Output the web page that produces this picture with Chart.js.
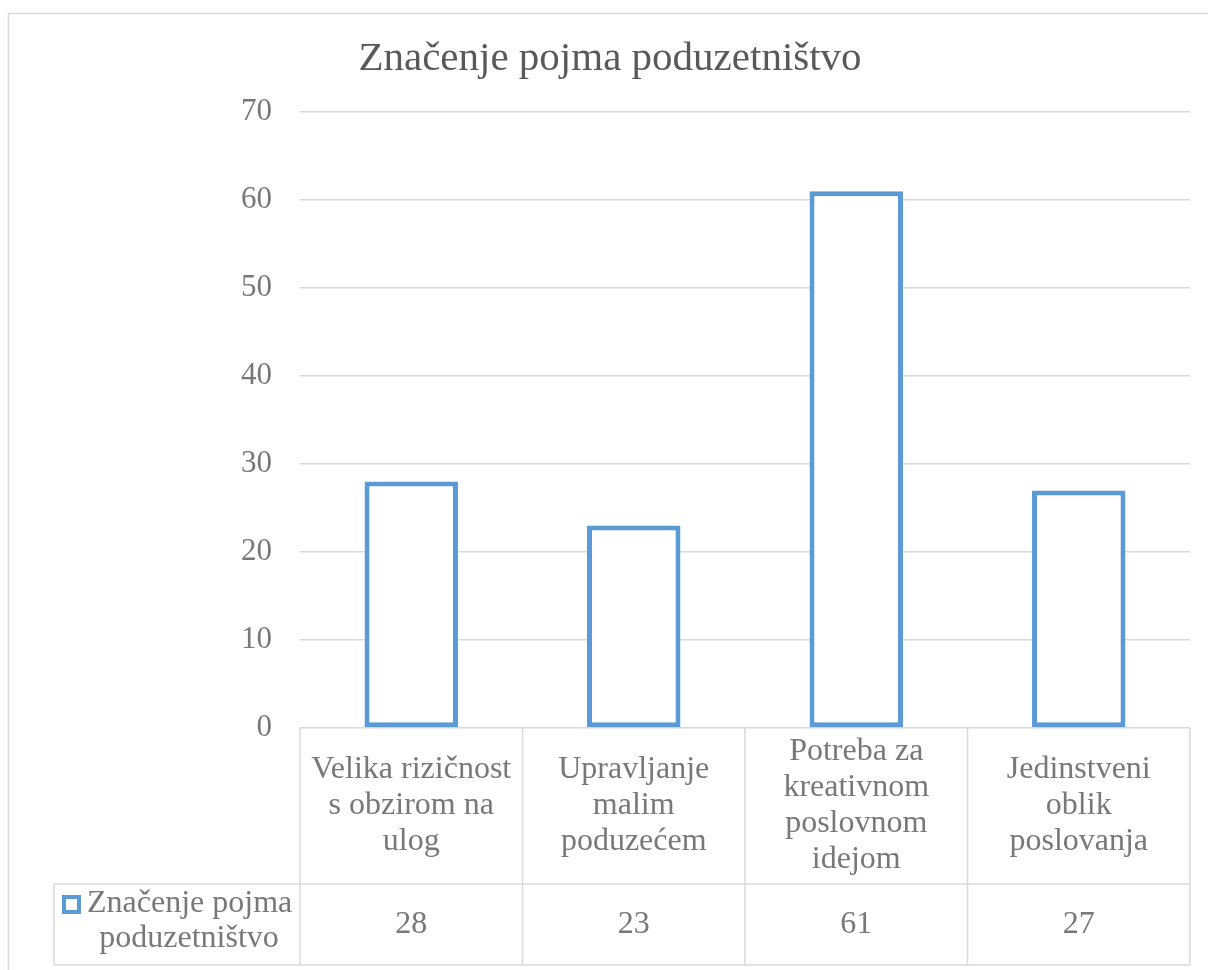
<!DOCTYPE html>
<html>
<head>
<meta charset="utf-8">
<title>Značenje pojma poduzetništvo</title>
<script src="https://cdn.jsdelivr.net/npm/chart.js@4/dist/chart.umd.min.js"></script>
<style>
  html, body { margin: 0; padding: 0; background: #fff; }
  #wrap { position: relative; width: 1208px; height: 970px; }
</style>
</head>
<body>
<div id="wrap"><canvas id="chart"></canvas></div>
<script>
// ─── Data ──────────────────────────────────────────────────────────
const chartTitle = 'Značenje pojma poduzetništvo';
const seriesName = ['Značenje pojma', 'poduzetništvo'];
const categories = [
  ['Velika rizičnost', 's obzirom na', 'ulog'],
  ['Upravljanje', 'malim', 'poduzećem'],
  ['Potreba za', 'kreativnom', 'poslovnom', 'idejom'],
  ['Jedinstveni', 'oblik', 'poslovanja'],
];
const values = [28, 23, 61, 27];
const yTicks = [0, 10, 20, 30, 40, 50, 60, 70];

// ─── Styling ───────────────────────────────────────────────────────
const FONT = '"Liberation Serif", "Times New Roman", serif';
const BLUE = '#5b9bd5';
const GRID = '#d9d9d9';
const TEXT = '#787878';
const TITLE = '#595959';

// draws title, outer frame and the data table under the plot
const tablePlugin = {
  id: 'dataTable',
  beforeDraw(chart) {
    const ctx = chart.ctx;
    ctx.save();
    ctx.strokeStyle = GRID;
    ctx.lineWidth = 1.5;
    ctx.beginPath();
    ctx.moveTo(8.5, 980);
    ctx.lineTo(8.5, 13.5);
    ctx.lineTo(1220, 13.5);
    ctx.stroke();
    ctx.restore();
  },
  afterDraw(chart) {
    const ctx = chart.ctx;
    const area = chart.chartArea;
    const x = chart.scales.x;
    const n = categories.length;

    // title
    ctx.save();
    ctx.fillStyle = TITLE;
    ctx.font = '41px ' + FONT;
    ctx.textAlign = 'center';
    ctx.textBaseline = 'alphabetic';
    ctx.fillText(chartTitle, 610, 70);

    // column edges from the category scale
    const edges = [area.left];
    for (let i = 1; i < n; i++) {
      edges.push((x.getPixelForValue(i - 1) + x.getPixelForValue(i)) / 2);
    }
    edges.push(area.right);

    const top = area.bottom;
    const mid = 884;
    const bottom = 965;
    const legendLeft = 54;

    ctx.strokeStyle = GRID;
    ctx.lineWidth = 1.5;
    ctx.beginPath();
    edges.forEach(ex => { ctx.moveTo(ex, top); ctx.lineTo(ex, bottom); });
    ctx.moveTo(legendLeft, mid); ctx.lineTo(area.right, mid);
    ctx.moveTo(legendLeft, bottom); ctx.lineTo(area.right, bottom);
    ctx.moveTo(legendLeft, mid); ctx.lineTo(legendLeft, bottom);
    ctx.stroke();

    // header labels and values
    ctx.fillStyle = TEXT;
    ctx.font = '32px ' + FONT;
    ctx.textAlign = 'center';
    ctx.textBaseline = 'middle';
    const lh = 36;
    categories.forEach((lines, i) => {
      const cx = (edges[i] + edges[i + 1]) / 2;
      const cy = (top + mid) / 2;
      const y0 = cy - (lines.length - 1) * lh / 2;
      lines.forEach((t, k) => ctx.fillText(t, cx, y0 + k * lh));
      ctx.fillText(String(values[i]), cx, (mid + bottom) / 2);
    });

    // legend cell: marker + wrapped series name
    const r1 = 904, r2 = 939;
    ctx.textAlign = 'left';
    ctx.fillText(seriesName[0], 87, r1);
    ctx.textAlign = 'center';
    ctx.fillText(seriesName[1], 189, r2);
    ctx.fillStyle = '#fff';
    ctx.strokeStyle = BLUE;
    ctx.lineWidth = 4;
    ctx.fillRect(64, 897, 15, 15);
    ctx.strokeRect(64, 897, 15, 15);
    ctx.restore();
  }
};

new Chart(document.getElementById('chart'), {
  type: 'bar',
  data: {
    labels: categories,
    datasets: [{
      label: seriesName.join(' '),
      data: values,
      backgroundColor: '#ffffff',
      borderColor: BLUE,
      borderWidth: 5,
      borderSkipped: false,
      categoryPercentage: 1,
      barPercentage: 0.42,
    }],
  },
  options: {
    responsive: true,
    maintainAspectRatio: false,
    animation: false,
    layout: { padding: { left: 0, right: 18, top: 112, bottom: 242 } },
    plugins: {
      legend: { display: false },
      title: { display: false },
      tooltip: { enabled: false },
    },
    scales: {
      x: { display: false },
      y: {
        min: 0,
        max: 70,
        afterFit(scale) { scale.width = 300; },
        afterBuildTicks(scale) { scale.ticks = yTicks.map(v => ({ value: v })); },
        border: { display: false },
        grid: { color: GRID, lineWidth: 1.5, drawTicks: false },
        ticks: {
          padding: 28,
          color: TEXT,
          font: { family: FONT, size: 31 },
        },
      },
    },
  },
  plugins: [tablePlugin],
});
</script>
</body>
</html>
